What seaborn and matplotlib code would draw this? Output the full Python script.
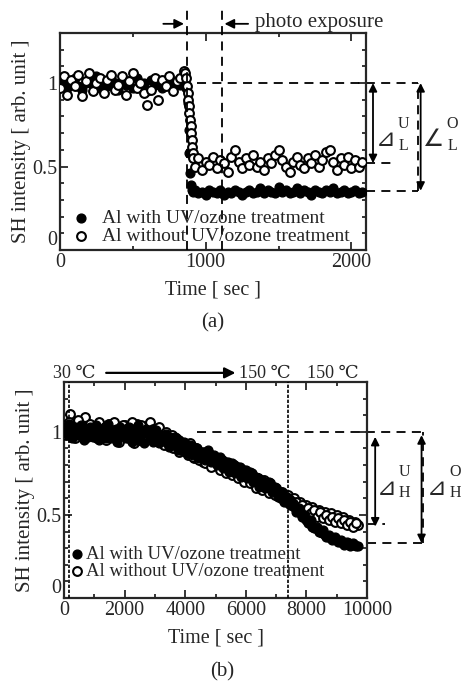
import numpy as np
import pandas as pd
import seaborn as sns
import matplotlib.pyplot as plt
from matplotlib.ticker import MultipleLocator, FixedLocator, FixedFormatter

# ---------------- data (a): photo exposure ----------------
t_a_pre = [0, 25, 50, 75, 100, 125, 150, 175, 200, 225,
           250, 275, 300, 325, 350, 375, 400, 425, 450, 475,
           500, 525, 550, 575, 600, 625, 650, 675, 700, 725,
           750, 775, 800, 825, 850]
y_a_with_pre = [0.99, 1.02, 0.97, 1.01, 1.03, 0.98, 0.96, 1.00, 1.02, 0.99,
                1.04, 0.97, 1.01, 0.98, 1.03, 1.00, 0.96, 1.02, 0.99, 1.01,
                0.97, 1.03, 0.98, 1.00, 0.95, 1.02, 0.99, 1.01, 0.97, 1.00,
                1.03, 0.98, 1.01, 0.99, 1.02]
y_a_without_pre = [0.97, 1.04, 0.93, 1.02, 0.98, 1.05, 0.92, 1.01, 1.06, 0.95,
                   1.00, 1.03, 0.94, 1.02, 1.05, 0.96, 0.99, 1.04, 0.93, 1.01,
                   1.06, 0.97, 1.00, 0.94, 0.87, 0.96, 1.03, 0.90, 1.02, 0.98,
                   1.04, 0.95, 1.01, 1.03, 1.07]

t_a_drop_with = [865, 875, 882, 888, 894, 900, 908, 916]
y_a_drop_with = [0.97, 0.88, 0.72, 0.58, 0.46, 0.39, 0.36, 0.35]
t_a_drop_without = [860, 866, 872, 876, 880, 884, 888, 892, 896, 900, 904, 908, 912, 916]
y_a_drop_without = [1.06, 1.03, 0.98, 0.94, 0.90, 0.86, 0.82, 0.78, 0.74, 0.70, 0.66, 0.62, 0.58, 0.55]

t_a_post = [925, 950, 975, 1000, 1025, 1050, 1075, 1100, 1125, 1150,
            1175, 1200, 1225, 1250, 1275, 1300, 1325, 1350, 1375, 1400,
            1425, 1450, 1475, 1500, 1525, 1550, 1575, 1600, 1625, 1650,
            1675, 1700, 1725, 1750, 1775, 1800, 1825, 1850, 1875, 1900,
            1925, 1950, 1975, 2000, 2025, 2050, 2075]
y_a_with_post = [0.36, 0.34, 0.35, 0.33, 0.36, 0.35, 0.34, 0.36, 0.33, 0.35,
                 0.34, 0.36, 0.35, 0.33, 0.35, 0.36, 0.34, 0.35, 0.37, 0.34,
                 0.36, 0.35, 0.34, 0.38, 0.35, 0.36, 0.34, 0.35, 0.37, 0.34,
                 0.36, 0.35, 0.33, 0.36, 0.35, 0.34, 0.36, 0.35, 0.37, 0.34,
                 0.35, 0.36, 0.34, 0.35, 0.36, 0.34, 0.35]
y_a_without_post = [0.50, 0.55, 0.48, 0.53, 0.51, 0.56, 0.49, 0.54, 0.52, 0.47,
                    0.56, 0.60, 0.53, 0.49, 0.55, 0.51, 0.57, 0.50, 0.53, 0.48,
                    0.55, 0.52, 0.57, 0.60, 0.54, 0.50, 0.47, 0.53, 0.56, 0.51,
                    0.49, 0.55, 0.52, 0.57, 0.50, 0.54, 0.59, 0.60, 0.53, 0.48,
                    0.55, 0.51, 0.56, 0.49, 0.54, 0.50, 0.53]

# ---------------- data (b): heating ----------------
t_b = [0, 100, 200, 300, 400, 500, 600, 700, 800, 900,
       1000, 1100, 1200, 1300, 1400, 1500, 1600, 1700, 1800, 1900,
       2000, 2100, 2200, 2300, 2400, 2500, 2600, 2700, 2800, 2900,
       3000, 3100, 3200, 3300, 3400, 3500, 3600, 3700, 3800, 3900,
       4000, 4100, 4200, 4300, 4400, 4500, 4600, 4700, 4800, 4900,
       5000, 5100, 5200, 5300, 5400, 5500, 5600, 5700, 5800, 5900,
       6000, 6100, 6200, 6300, 6400, 6500, 6600, 6700, 6800, 6900,
       7000, 7100, 7200, 7300, 7400, 7500, 7600, 7700, 7800, 7900,
       8000, 8100, 8200, 8300, 8400, 8500, 8600, 8700, 8800, 8900,
       9000, 9100, 9200, 9300, 9400, 9500, 9600, 9700]
y_b_with = [1.03, 0.99, 1.02, 0.97, 1.01, 0.98, 1.03, 0.96, 1.00, 0.98,
            1.01, 0.97, 0.99, 1.02, 0.96, 1.00, 0.98, 1.02, 0.97, 0.99,
            1.01, 0.96, 0.99, 1.02, 0.97, 0.95, 1.00, 1.02, 0.98, 1.01,
            0.99, 0.95, 0.98, 0.96, 0.93, 0.97, 0.94, 0.92, 0.95, 0.91,
            0.93, 0.89, 0.91, 0.87, 0.90, 0.86, 0.88, 0.85, 0.87, 0.83,
            0.85, 0.81, 0.83, 0.79, 0.82, 0.78, 0.80, 0.77, 0.79, 0.75,
            0.77, 0.73, 0.75, 0.71, 0.72, 0.69, 0.70, 0.67, 0.68, 0.65,
            0.65, 0.62, 0.63, 0.59, 0.60, 0.56, 0.55, 0.53, 0.51, 0.49,
            0.47, 0.45, 0.43, 0.42, 0.40, 0.39, 0.38, 0.37, 0.36, 0.36,
            0.35, 0.34, 0.34, 0.33, 0.33, 0.32, 0.32, 0.31]
y_b_without = [1.04, 1.00, 1.11, 0.98, 1.05, 1.02, 0.97, 1.09, 1.01, 0.99,
               1.03, 0.96, 1.04, 0.99, 0.95, 1.05, 0.98, 1.03, 0.94, 1.02,
               1.04, 0.97, 1.00, 0.93, 1.05, 1.01, 0.96, 1.03, 1.05, 0.99,
               1.02, 0.95, 1.00, 0.92, 0.97, 0.94, 0.90, 0.96, 0.88, 0.93,
               0.91, 0.86, 0.92, 0.84, 0.89, 0.87, 0.82, 0.88, 0.85, 0.80,
               0.84, 0.79, 0.83, 0.77, 0.81, 0.76, 0.80, 0.74, 0.78, 0.73,
               0.76, 0.71, 0.74, 0.69, 0.72, 0.68, 0.71, 0.66, 0.69, 0.65,
               0.66, 0.63, 0.64, 0.60, 0.62, 0.59, 0.60, 0.57, 0.58, 0.55,
               0.56, 0.53, 0.55, 0.52, 0.53, 0.50, 0.52, 0.49, 0.51, 0.48,
               0.50, 0.47, 0.49, 0.46, 0.47, 0.45, 0.46, 0.44]

# in-between readings of (b)
t_b_mid = [50, 150, 250, 350, 450, 550, 650, 750, 850, 950,
           1050, 1150, 1250, 1350, 1450, 1550, 1650, 1750, 1850, 1950,
           2050, 2150, 2250, 2350, 2450, 2550, 2650, 2750, 2850, 2950,
           3050, 3150, 3250, 3350, 3450, 3550, 3650, 3750, 3850, 3950,
           4050, 4150, 4250, 4350, 4450, 4550, 4650, 4750, 4850, 4950,
           5050, 5150, 5250, 5350, 5450, 5550, 5650, 5750, 5850, 5950,
           6050, 6150, 6250, 6350, 6450, 6550, 6650, 6750, 6850, 6950,
           7050, 7150, 7250, 7350, 7450, 7550, 7650, 7750, 7850, 7950,
           8050, 8150, 8250, 8350, 8450, 8550, 8650, 8750, 8850, 8950,
           9050, 9150, 9250, 9350, 9450, 9550, 9650]
y_b_with_mid = [1.00, 1.05, 0.96, 1.03, 0.99, 1.04, 0.95, 1.01, 1.03, 0.97,
                1.04, 0.95, 1.02, 0.98, 1.05, 0.96, 1.01, 0.94, 1.03, 1.00,
                0.96, 1.03, 0.94, 1.00, 1.04, 0.98, 0.93, 1.01, 0.97, 0.94,
                1.01, 0.93, 0.97, 0.99, 0.91, 0.95, 0.97, 0.89, 0.93, 0.94,
                0.87, 0.92, 0.86, 0.90, 0.84, 0.88, 0.83, 0.89, 0.82, 0.86,
                0.80, 0.85, 0.78, 0.82, 0.76, 0.81, 0.75, 0.79, 0.73, 0.77,
                0.72, 0.76, 0.70, 0.73, 0.67, 0.71, 0.66, 0.70, 0.64, 0.67,
                0.61, 0.64, 0.58, 0.61, 0.56, 0.57, 0.52, 0.54, 0.49, 0.50,
                0.45, 0.47, 0.42, 0.43, 0.40, 0.41, 0.37, 0.38, 0.35, 0.37,
                0.34, 0.35, 0.32, 0.34, 0.31, 0.33, 0.31]
y_b_without_mid = [0.98, 1.06, 1.01, 0.96, 1.07, 0.99, 1.03, 0.97, 1.05, 1.00,
                   0.97, 1.06, 0.99, 1.03, 0.97, 1.02, 1.06, 0.96, 1.01, 1.04,
                   0.98, 1.03, 1.06, 0.99, 0.95, 1.04, 1.00, 0.97, 1.06, 1.02,
                   0.97, 1.03, 0.96, 1.00, 0.93, 0.98, 0.92, 0.95, 0.89, 0.91,
                   0.87, 0.93, 0.85, 0.90, 0.83, 0.87, 0.81, 0.86, 0.79, 0.84,
                   0.82, 0.77, 0.81, 0.75, 0.79, 0.74, 0.77, 0.72, 0.76, 0.70,
                   0.73, 0.69, 0.72, 0.66, 0.70, 0.65, 0.68, 0.63, 0.66, 0.62,
                   0.63, 0.60, 0.61, 0.58, 0.59, 0.56, 0.58, 0.54, 0.56, 0.53,
                   0.54, 0.51, 0.53, 0.49, 0.52, 0.48, 0.50, 0.47, 0.49, 0.46,
                   0.48, 0.45, 0.47, 0.44, 0.46, 0.43, 0.45]

label_with = "Al with UV/ozone treatment"
label_without = "Al without UV/ozone treatment"

df_a_with = pd.DataFrame({"t": t_a_pre + t_a_drop_with + t_a_post,
                          "y": y_a_with_pre + y_a_drop_with + y_a_with_post})
df_a_without = pd.DataFrame({"t": t_a_pre + t_a_drop_without + t_a_post,
                             "y": y_a_without_pre + y_a_drop_without + y_a_without_post})
df_b_with = pd.DataFrame({"t": t_b + t_b_mid, "y": y_b_with + y_b_with_mid})
df_b_without = pd.DataFrame({"t": t_b + t_b_mid, "y": y_b_without + y_b_without_mid})

sns.set_style("ticks")
plt.rcParams["font.family"] = ["Liberation Serif", "DejaVu Serif", "DejaVu Sans"]
plt.rcParams["font.size"] = 14
plt.rcParams["axes.linewidth"] = 1.6
plt.rcParams["xtick.direction"] = "in"
plt.rcParams["ytick.direction"] = "in"

W, H = 461, 682
fig = plt.figure(figsize=(W / 100, H / 100), dpi=100)


def px(x, y):
    return x / W, 1 - y / H


def style_axes(ax, xmax, xmajor, xminor):
    ax.set_xlim(0, xmax)
    ax.set_ylim(0, 1.3)
    ax.xaxis.set_major_locator(MultipleLocator(xmajor))
    ax.xaxis.set_minor_locator(MultipleLocator(xminor))
    ax.yaxis.set_major_locator(FixedLocator([0, 0.5, 1]))
    ax.yaxis.set_major_formatter(FixedFormatter(["0", "0.5", "1"]))
    ax.yaxis.set_minor_locator(MultipleLocator(0.1))
    ax.tick_params(which="both", top=True, right=True, width=1.3, labelsize=14.5, pad=2)
    ax.tick_params(which="major", length=6)
    ax.tick_params(which="minor", length=3)
    ax.set_xlabel("Time [ sec ]", fontsize=14.5, labelpad=6)
    ax.set_ylabel("SH intensity [ arb. unit ]", fontsize=15, labelpad=1)
    # the y "0" sits a little above the corner, as in the original
    ax.yaxis.get_major_ticks()[0].label1.set_verticalalignment("bottom")
    for s in ax.spines.values():
        s.set_linewidth(1.6)


def draw_series(ax, dfw, dfo, filled_on_top=False):
    zw, zo = (4, 3) if filled_on_top else (3, 4)
    sns.scatterplot(data=dfw, x="t", y="y", ax=ax, s=40, color="black",
                    edgecolor="black", linewidth=1.0, label=label_with, zorder=zw)
    sns.scatterplot(data=dfo, x="t", y="y", ax=ax, s=40, color="white",
                    edgecolor="black", linewidth=1.5, label=label_without, zorder=zo)


dash = (0, (5, 3.5))

# ---------------- panel (a) ----------------
ax1 = fig.add_axes([60 / W, 1 - 250 / H, 306 / W, 217 / H])
draw_series(ax1, df_a_with, df_a_without)
style_axes(ax1, 2100, 1000, 500)
ax1.legend(loc="lower left", bbox_to_anchor=(0.024, 0.005), frameon=False,
           handletextpad=0.6, handlelength=1.0, labelspacing=0.0, borderpad=0.2,
           borderaxespad=0, fontsize=14)

exposure = [870, 1110]
for xv in exposure:
    ax1.plot([xv, xv], [0, 1.45], color="black", lw=1.3, ls=dash, clip_on=False, zorder=5)
arrow = dict(arrowstyle="-|>", color="black", lw=1.3, mutation_scale=14)
ax1.annotate("", xy=(exposure[0], 1.355), xytext=(690, 1.355), arrowprops=arrow,
             annotation_clip=False)
ax1.annotate("", xy=(exposure[1], 1.355), xytext=(1310, 1.355), arrowprops=arrow,
             annotation_clip=False)
fig.text(*px(255, 23), "photo exposure", fontsize=15, ha="left", va="center")

# level markers for (a)
level_a = [1.0, 0.52, 0.355]
ax1.plot([940, 2460], [level_a[0]] * 2, color="black", lw=1.3, ls=dash, clip_on=False)
ax1.plot([2100, 2295], [level_a[1]] * 2, color="black", lw=1.3, ls=dash, clip_on=False)
ax1.plot([2100, 2460], [level_a[2]] * 2, color="black", lw=1.3, ls=dash, clip_on=False)
ax1.plot([2460, 2460], [level_a[2], level_a[0]], color="black", lw=1.3, ls=dash, clip_on=False)
darrow = dict(arrowstyle="<|-|>", color="black", lw=1.3, mutation_scale=12, shrinkA=0, shrinkB=0)
ax1.annotate("", xy=(2148, level_a[1]), xytext=(2148, level_a[0]), arrowprops=darrow,
             annotation_clip=False)
ax1.annotate("", xy=(2475, level_a[2]), xytext=(2475, level_a[0]), arrowprops=darrow,
             annotation_clip=False)
fig.text(*px(386, 139), "⊿", fontsize=17, ha="center", va="center",
         family=["DejaVu Sans"])
fig.text(*px(403, 124), "U", fontsize=11.5, ha="center", va="center")
fig.text(*px(403, 146), "L", fontsize=11.5, ha="center", va="center")
fig.text(*px(434, 139), "∠", fontsize=17, ha="center", va="center",
         family=["DejaVu Sans"])
fig.text(*px(452, 124), "O", fontsize=11.5, ha="center", va="center")
fig.text(*px(452, 146), "L", fontsize=11.5, ha="center", va="center")
fig.text(*px(213, 323), "(a)", fontsize=15, ha="center", va="center")

# ---------------- panel (b) ----------------
ax2 = fig.add_axes([64 / W, 1 - 598 / H, 303 / W, 216 / H])
draw_series(ax2, df_b_with, df_b_without, filled_on_top=True)
style_axes(ax2, 10000, 2000, 1000)
ax2.legend(loc="lower left", bbox_to_anchor=(-0.002, 0.067), frameon=False,
           handletextpad=0.0, handlelength=1.0, labelspacing=0.0, borderpad=0.2,
           borderaxespad=0, fontsize=13.5)

heat = [150, 7400]
for xv in heat:
    ax2.axvline(xv, color="black", lw=1.2, ls=(0, (2, 1)), zorder=5)
ax2.annotate("", xy=(5750, 1.355), xytext=(1300, 1.355), arrowprops=dict(
    arrowstyle="-|>", color="black", lw=1.6, mutation_scale=16), annotation_clip=False)
fig.text(*px(74, 373), "30 ℃", fontsize=13, ha="center", va="center")
fig.text(*px(265, 373), "150 ℃", fontsize=13, ha="center", va="center")
fig.text(*px(333, 373), "150 ℃", fontsize=13, ha="center", va="center")

level_b = [1.0, 0.445, 0.33]
ax2.plot([4400, 11850], [level_b[0]] * 2, color="black", lw=1.3, ls=dash, clip_on=False)
ax2.plot([10000, 10600], [level_b[1]] * 2, color="black", lw=1.3, ls=dash, clip_on=False)
ax2.plot([10000, 11850], [level_b[2]] * 2, color="black", lw=1.3, ls=dash, clip_on=False)
ax2.plot([11850, 11850], [level_b[2], level_b[0]], color="black", lw=1.3, ls=dash, clip_on=False)
ax2.annotate("", xy=(10270, 0.43), xytext=(10270, 0.97), arrowprops=darrow,
             annotation_clip=False)
ax2.annotate("", xy=(11800, level_b[2]), xytext=(11800, 0.98), arrowprops=darrow,
             annotation_clip=False)
fig.text(*px(387, 488), "⊿", fontsize=17, ha="center", va="center",
         family=["DejaVu Sans"])
fig.text(*px(404, 472), "U", fontsize=11.5, ha="center", va="center")
fig.text(*px(404, 493), "H", fontsize=11.5, ha="center", va="center")
fig.text(*px(437, 488), "⊿", fontsize=17, ha="center", va="center",
         family=["DejaVu Sans"])
fig.text(*px(455, 472), "O", fontsize=11.5, ha="center", va="center")
fig.text(*px(455, 493), "H", fontsize=11.5, ha="center", va="center")
fig.text(*px(222, 672), "(b)", fontsize=15, ha="center", va="center")

fig.savefig("out.png", dpi=100)
